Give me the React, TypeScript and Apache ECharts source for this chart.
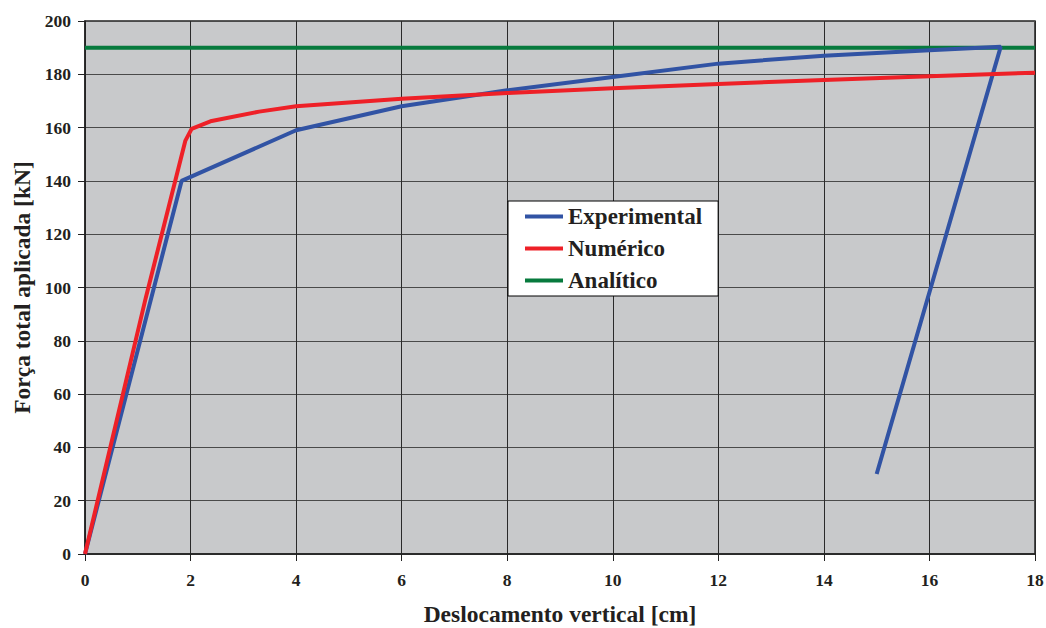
import React, { useEffect, useRef } from "react";
import * as echarts from "echarts";

const xTicks = [0, 2, 4, 6, 8, 10, 12, 14, 16, 18];
const yTicks = [0, 20, 40, 60, 80, 100, 120, 140, 160, 180, 200];

const experimental: [number, number][] = [
  [0, 0], [1.83, 140], [4, 159], [6, 168], [8, 174], [10, 179], [12, 184],
  [14, 187], [16, 189], [17.35, 190.3], [15, 30],
];
const numerico: [number, number][] = [
  [0, 0], [1.15, 96], [1.9, 155], [2.02, 159.5], [2.4, 162.5],
  [3.3, 166], [4, 168], [6, 170.8], [8, 173], [10, 174.8], [12, 176.4],
  [14, 177.9], [16, 179.3], [18, 180.6],
];
const analitico: [number, number][] = [[0, 190], [18, 190]];

const FONT = "Liberation Serif";

export default function App() {
  const ref = useRef<HTMLDivElement>(null);
  useEffect(() => {
    const chart = echarts.init(ref.current!, undefined, { renderer: "svg" });
    chart.setOption({
      animation: false,
      backgroundColor: "#ffffff",
      grid: {
        left: 85, right: 11, top: 21, bottom: 74, outerBoundsMode: "none",
        show: true, backgroundColor: "#c8c9cb", borderColor: "#222", borderWidth: 1.5,
      },
      legend: {
        left: 508, top: 201, orient: "vertical",
        backgroundColor: "#ffffff", borderColor: "#000", borderWidth: 1,
        padding: [4, 16, 4, 17], itemGap: 9, itemWidth: 38, itemHeight: 22,
        textStyle: { fontFamily: FONT, fontWeight: "bold", fontSize: 23, color: "#231f20" },
        data: [
          { name: "Experimental", icon: "path://M0,9h38v4h-38z" },
          { name: "Numérico", icon: "path://M0,9h38v4h-38z" },
          { name: "Analítico", icon: "path://M0,9h38v4h-38z" },
        ],
      },
      xAxis: {
        type: "value", min: 0, max: 18, interval: 2,
        name: "Deslocamento vertical [cm]", nameLocation: "middle", nameGap: 48,
        nameTextStyle: { fontFamily: FONT, fontWeight: "bold", fontSize: 23.5, color: "#231f20" },
        axisLine: { show: true, lineStyle: { color: "#222", width: 1.5 } },
        axisTick: { show: true, length: 7, lineStyle: { color: "#222" } },
        axisLabel: {
          margin: 17, fontFamily: FONT, fontWeight: "bold", fontSize: 17.5, color: "#231f20",
          formatter: (v: number) => (xTicks.includes(v) ? String(v) : ""),
        },
        splitLine: { show: true, lineStyle: { color: "#2a2a2a", width: 1 } },
      },
      yAxis: {
        type: "value", min: 0, max: 200, interval: 20,
        name: "Força total aplicada [kN]", nameLocation: "middle", nameGap: 51, nameRotate: 90,
        nameTextStyle: { fontFamily: FONT, fontWeight: "bold", fontSize: 23.5, color: "#231f20" },
        axisLine: { show: true, lineStyle: { color: "#222", width: 1.5 } },
        axisTick: { show: true, length: 7, lineStyle: { color: "#222" } },
        axisLabel: {
          margin: 14, fontFamily: FONT, fontWeight: "bold", fontSize: 17.5, color: "#231f20",
          formatter: (v: number) => (yTicks.includes(v) ? String(v) : ""),
        },
        splitLine: { show: true, lineStyle: { color: "#4a4a4a", width: 1 } },
      },
      series: [
        {
          name: "Experimental", type: "line", data: experimental, showSymbol: false,
          lineStyle: { color: "#3153a4", width: 4 }, itemStyle: { color: "#3153a4" }, z: 3,
        },
        {
          name: "Numérico", type: "line", data: numerico, showSymbol: false,
          lineStyle: { color: "#ee2027", width: 4 }, itemStyle: { color: "#ee2027" }, z: 4,
        },
        {
          name: "Analítico", type: "line", data: analitico, showSymbol: false,
          lineStyle: { color: "#077a3d", width: 4 }, itemStyle: { color: "#077a3d" }, z: 2,
        },
      ],
    });
    return () => chart.dispose();
  }, []);
  return (
    <div
      ref={ref}
      style={{ position: "absolute", left: 0, top: 0, width: 1046, height: 628 }}
    />
  );
}
